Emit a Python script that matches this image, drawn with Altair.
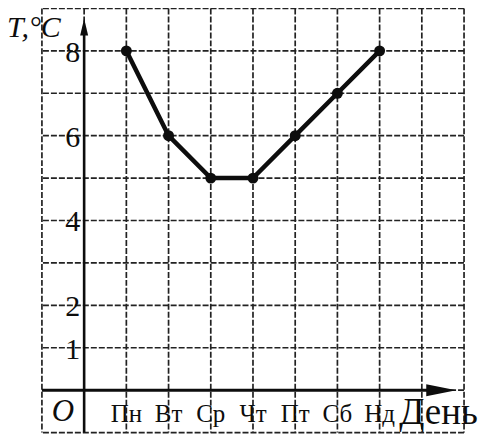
import altair as alt
import pandas as pd

days = ["Пн", "Вт", "Ср", "Чт", "Пт", "Сб", "Нд"]
temps = [8, 6, 5, 5, 6, 7, 8]
y_tick_labels = [8, 6, 4, 2, 1]
x_grid = list(range(-1, 10))
y_grid = list(range(-1, 10))

FONT = "Liberation Serif"
INK = "#0d0d0d"

df = pd.DataFrame({"pos": list(range(1, len(days) + 1)), "day": days, "t": temps})
yl = pd.DataFrame({"v": y_tick_labels, "lab": [str(v) for v in y_tick_labels]})

xs = alt.Scale(domain=[-1, 9], nice=False, zero=False)
ys = alt.Scale(domain=[-1, 9], nice=False, zero=False)


def X(f):
    return alt.X(f, type="quantitative", scale=xs, axis=None)


def Y(f):
    return alt.Y(f, type="quantitative", scale=ys, axis=None)


vgrid = alt.Chart(pd.DataFrame({"x": x_grid})).mark_rule(
    color="#222222", strokeWidth=1.7, strokeDash=[6, 2]
).encode(x=X("x"))

hgrid = alt.Chart(pd.DataFrame({"y": y_grid})).mark_rule(
    color="#222222", strokeWidth=1.7, strokeDash=[6, 2]
).encode(y=Y("y"))

axes = pd.DataFrame({"x0": [-1, 0], "x1": [8.5, 0], "y0": [0, -1], "y1": [0, 8.5], "w": [3.0, 2.6]})
axis_lines = alt.Chart(axes).mark_rule(color=INK).encode(
    x=X("x0"), x2="x1", y=Y("y0"), y2="y1",
    strokeWidth=alt.StrokeWidth("w:Q", scale=None, legend=None),
)

x_arrow = alt.Chart(pd.DataFrame({"x": [8.46], "y": [0]})).mark_point(
    shape="M-1,-0.4L1,0L-1,0.4Z", filled=True, size=900, color=INK, opacity=1
).encode(x=X("x"), y=Y("y"))
y_arrow = alt.Chart(pd.DataFrame({"x": [0], "y": [8.565]})).mark_point(
    shape="M0,-1L0.47,1L-0.47,1Z", filled=True, size=289, color=INK, opacity=1
).encode(x=X("x"), y=Y("y"))

line = alt.Chart(df).mark_line(color=INK, strokeWidth=4.5).encode(x=X("pos"), y=Y("t"))
pts = alt.Chart(df).mark_circle(size=120, color=INK, opacity=1).encode(x=X("pos"), y=Y("t"))

ylabels = alt.Chart(yl.assign(x=0)).mark_text(
    font=FONT, fontSize=30, align="right", baseline="middle", dx=-4, dy=2, color=INK
).encode(x=X("x"), y=Y("v"), text="lab:N")

daylabels = alt.Chart(df.assign(yb=-0.5)).mark_text(
    font=FONT, fontSize=25, align="center", baseline="middle", dy=3, color=INK
).encode(x=X("pos"), y=Y("yb"), text="day:N")

origin = alt.Chart(pd.DataFrame({"x": [-0.5], "y": [-0.5], "s": ["O"]})).mark_text(
    font=FONT, fontSize=31, fontStyle="italic", align="center", baseline="middle", dy=1, color=INK
).encode(x=X("x"), y=Y("y"), text="s:N")

xtitle = alt.Chart(pd.DataFrame({"s": ["День"]})).mark_text(
    font=FONT, fontSize=37, align="left", baseline="middle", color=INK
).encode(x=alt.value(358), y=alt.value(405), text="s:N")

ytitle = alt.Chart(pd.DataFrame({"s": ["T,°C"]})).mark_text(
    font=FONT, fontSize=30, fontStyle="italic", align="left", baseline="alphabetic", color=INK
).encode(x=alt.value(-35), y=alt.value(29), text="s:N")

chart = alt.layer(
    vgrid, hgrid, axis_lines, x_arrow, y_arrow, line, pts,
    ylabels, daylabels, origin, xtitle, ytitle
).properties(
    width=423, height=425,
    autosize=alt.AutoSizeParams(type="none"),
    padding={"left": 34, "top": 0, "right": 20, "bottom": 3},
    background="white",
).configure_view(stroke=None)

chart.save("out.html", embed_options={"renderer": "svg", "actions": False})
